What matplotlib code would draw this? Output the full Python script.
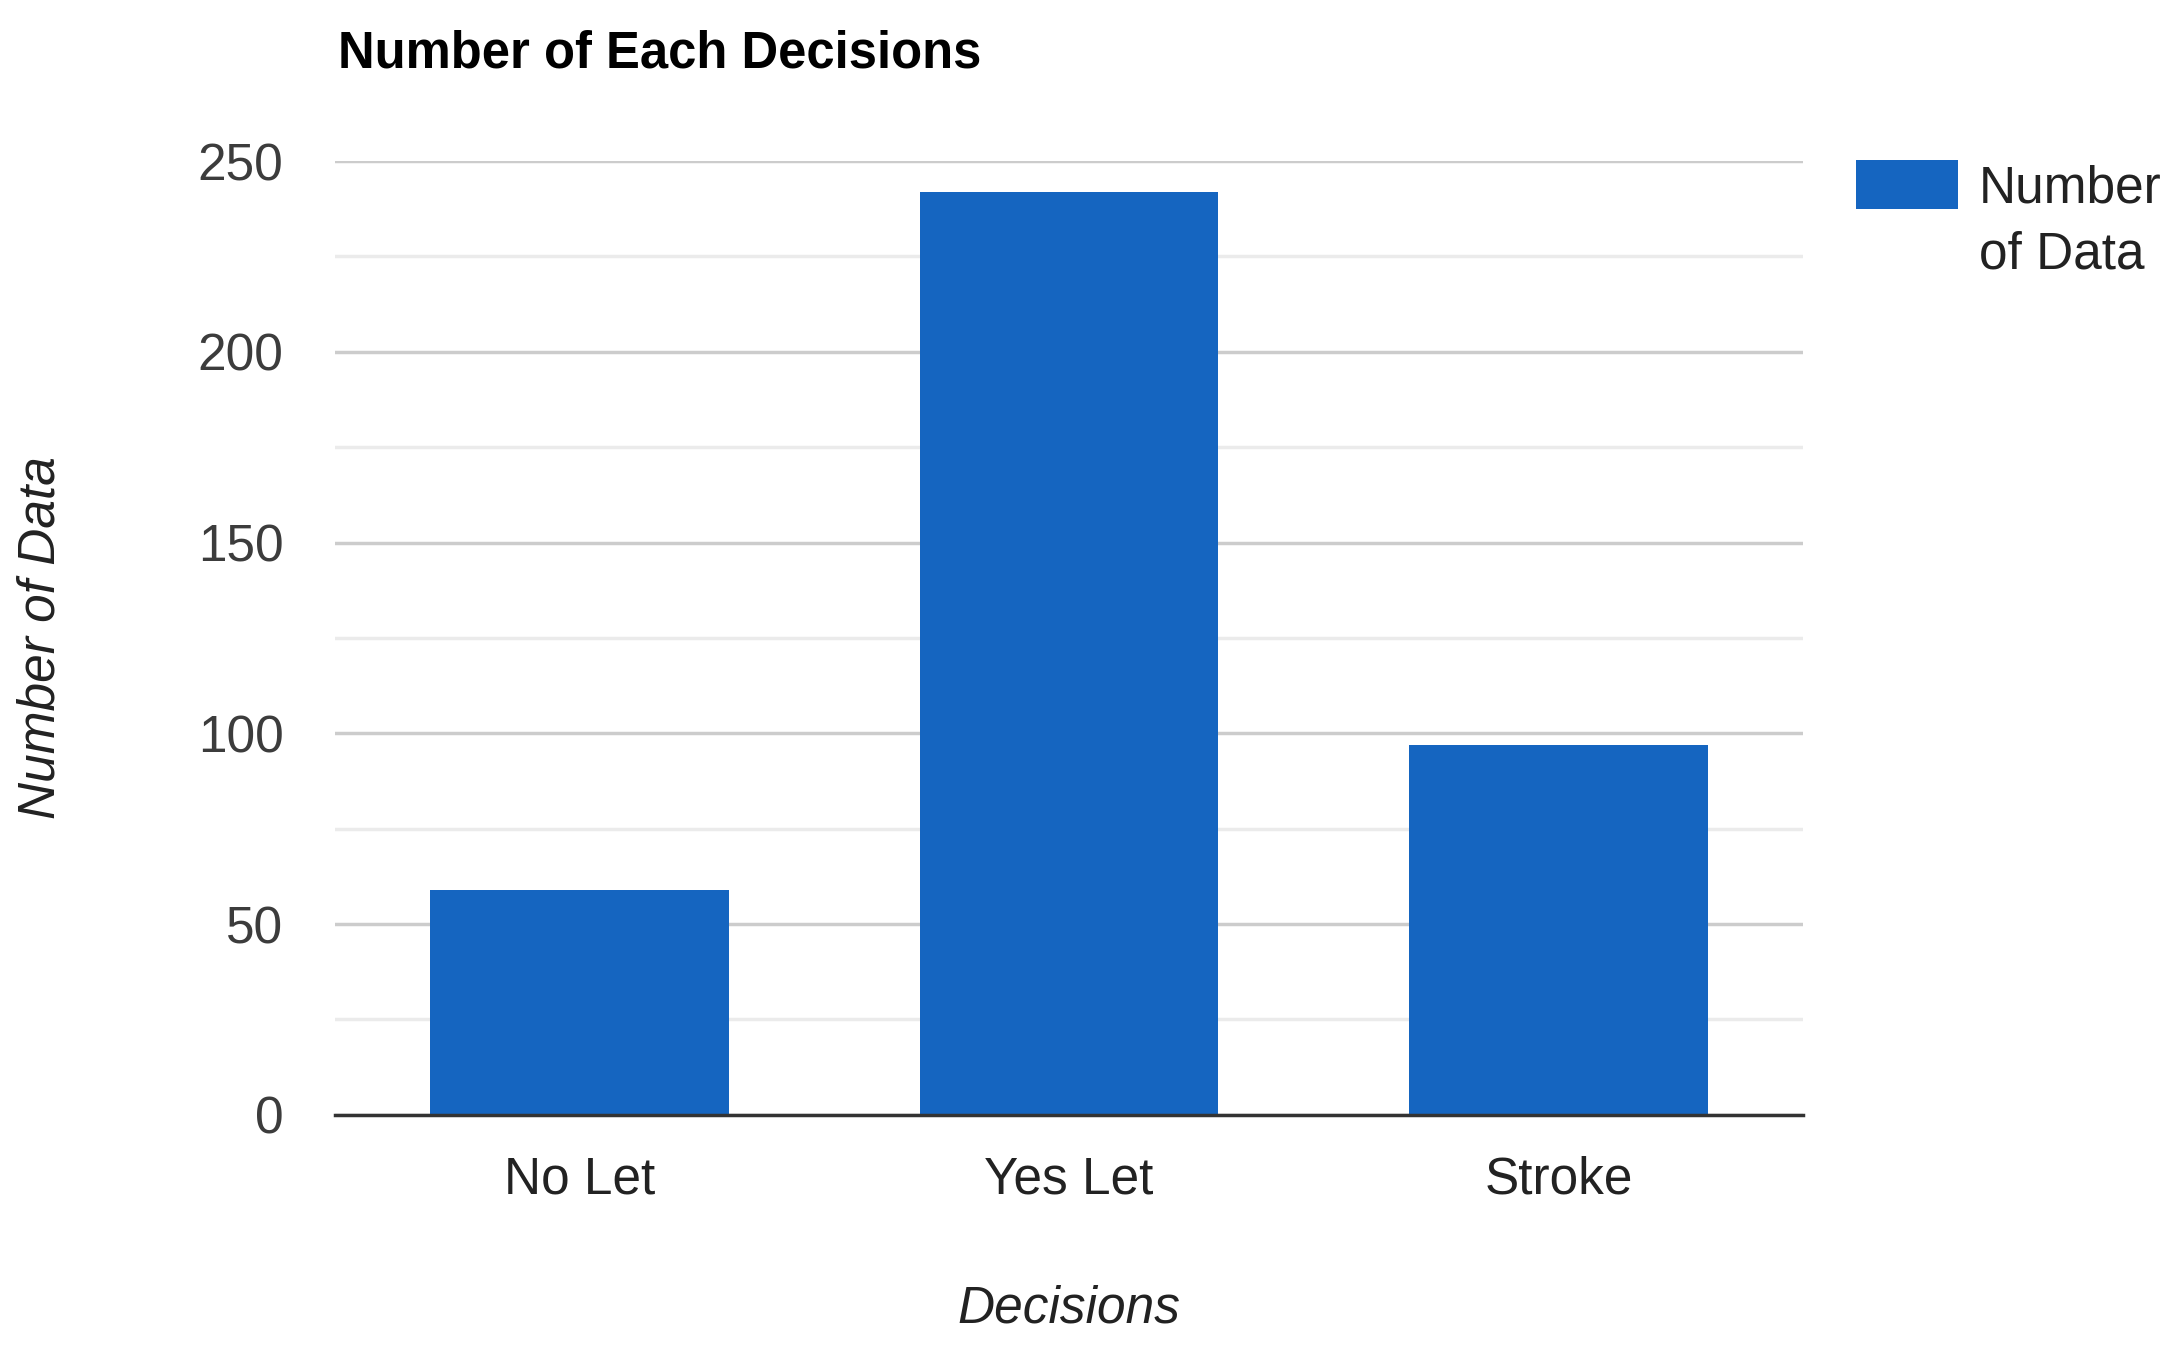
import matplotlib
matplotlib.use("Agg")
import matplotlib.pyplot as plt
from matplotlib.ticker import MultipleLocator
from matplotlib.patches import Rectangle

plt.rcParams['font.family'] = ['Liberation Sans', 'DejaVu Sans']

decisions = ['No Let', 'Yes Let', 'Stroke']
counts = [59, 242, 97]
series_name = 'Number\nof Data'
bar_color = '#1565C0'

fig = plt.figure(figsize=(21.82, 13.53), dpi=100)
ax = fig.add_axes([0.1535, 0.176, 0.673, 0.705])

x = range(len(decisions))
ax.bar(x, counts, width=0.61, color=bar_color, zorder=3)

ax.set_xlim(-0.5, 2.5)
ax.set_ylim(0, 250)
ax.yaxis.set_major_locator(MultipleLocator(50))
ax.yaxis.set_minor_locator(MultipleLocator(25))
ax.grid(axis='y', which='major', color='#cccccc', linewidth=2.5, zorder=0)
ax.grid(axis='y', which='minor', color='#ebebeb', linewidth=2.5, zorder=0)

for s in ['top', 'right', 'left']:
    ax.spines[s].set_visible(False)
ax.spines['bottom'].set_color('#333333')
ax.spines['bottom'].set_linewidth(2.5)
ax.spines['bottom'].set_zorder(4)

ax.set_xticks(list(x))
ax.set_xticklabels(decisions, color='#222222')
ax.tick_params(axis='both', which='both', length=0, labelsize=37)
ax.tick_params(axis='y', pad=37, labelcolor='#3c3c3c')
ax.tick_params(axis='x', pad=29)

ax.set_xlabel('Decisions', fontsize=37, style='italic', color='#222222', labelpad=58)
ax.set_ylabel('Number of Data', fontsize=37, style='italic', color='#222222', labelpad=95)

fig.text(0.155, 0.960, 'Number of Each Decisions', fontsize=36.5, fontweight='bold',
         ha='left', va='center', color='#000000')

# legend (box aligned with first line of the label, as in the original)
fig.patches.append(Rectangle((0.8506, 0.8455), 0.0467, 0.0362, transform=fig.transFigure,
                             facecolor=bar_color, edgecolor='none'))
fig.text(0.907, 0.8786, series_name, fontsize=37, ha='left', va='top',
         color='#222222', linespacing=1.45)

fig.savefig('out.png', dpi=100, facecolor='white')
